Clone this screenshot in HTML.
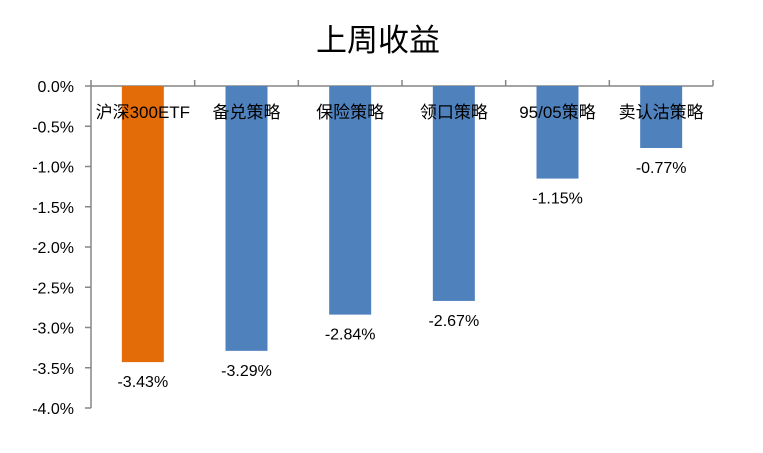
<!DOCTYPE html>
<html><head><meta charset="utf-8"><style>
body{margin:0;background:#fff;width:763px;height:453px;overflow:hidden}
svg{display:block}
text{font-family:"Liberation Sans","Noto Sans CJK SC",sans-serif}
</style></head><body>
<svg id="chart" width="763" height="453">
<text x="378" y="51" text-anchor="middle" font-size="31" fill="#000">上周收益</text>
<g id="grid"></g><g id="bars"></g><g id="labels"></g>
</svg>
<script>
const categories=["沪深300ETF","备兑策略","保险策略","领口策略","95/05策略","卖认沽策略"];
const values=[-3.43,-3.29,-2.84,-2.67,-1.15,-0.77];
const colors=["#E36C09","#4F81BD","#4F81BD","#4F81BD","#4F81BD","#4F81BD"];
const yTicks=[0,-0.5,-1,-1.5,-2,-2.5,-3,-3.5,-4];
const NS="http://www.w3.org/2000/svg";
const x0=91,x1=713,y0=86,yMin=408;
const y=v=>y0+(0-v)/4*(yMin-y0);
const step=(x1-x0)/categories.length;
const cx=i=>x0+step*(i+0.5);
function mk(tag,attrs,parent,txt){const e=document.createElementNS(NS,tag);for(const k in attrs)e.setAttribute(k,attrs[k]);if(txt!==undefined)e.textContent=txt;parent.appendChild(e);return e;}
const g=document.getElementById('grid'),b=document.getElementById('bars'),l=document.getElementById('labels');
yTicks.forEach(t=>{
  const tk=mk('line',{x1:x0-6,x2:x0,y1:y(t),y2:y(t),stroke:'#868686','stroke-width':1.5},g);
  
  
  const tx=mk('text',{x:74,y:y(t)+6,'text-anchor':'end','font-size':16,fill:'#000'},g,t.toFixed(1)+'%');
  
  
});
const ya=mk('line',{x1:x0,x2:x0,y1:y0,y2:yMin,stroke:'#868686','stroke-width':1.5},g);


categories.forEach((c,i)=>{
  const bw=42,v=values[i];
  const r=mk('rect',{x:cx(i)-bw/2,y:y0,width:bw,height:y(v)-y0,fill:colors[i]},b);
  
  
  const vt=mk('text',{x:cx(i),y:y(v)+25,'text-anchor':'middle','font-size':16,fill:'#000'},l,v.toFixed(2)+'%');
  
  
  const ct=mk('text',{x:cx(i),y:118,'text-anchor':'middle','font-size':17,fill:'#000'},l,c);
  
  
});
for(let i=0;i<=categories.length;i++){
  const tk=mk('line',{x1:x0+step*i,x2:x0+step*i,y1:y0-6,y2:y0,stroke:'#868686','stroke-width':1.5},g);
  
  
}
const xa=mk('line',{x1:x0,x2:x1,y1:y0,y2:y0,stroke:'#868686','stroke-width':1.5},g);


</script>
</body></html>
